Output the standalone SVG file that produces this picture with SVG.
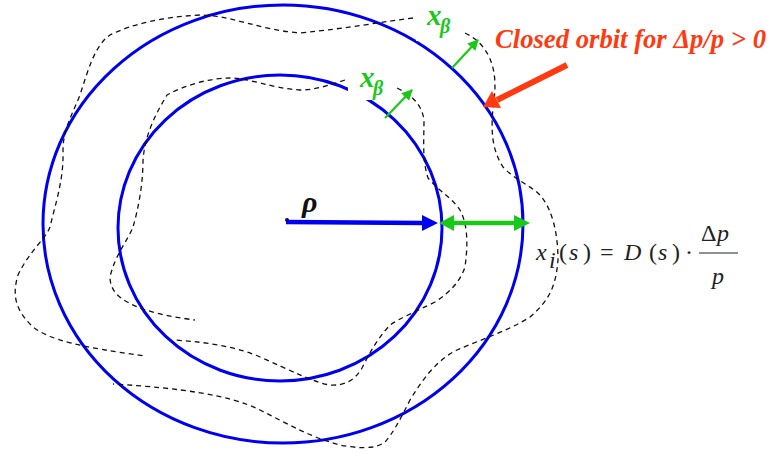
<svg xmlns="http://www.w3.org/2000/svg" width="779" height="454" viewBox="0 0 779 454">
<style>
.orbit{fill:none;stroke:#0000f0;stroke-width:3}
.dash{fill:none;stroke:#111;stroke-width:1.3;stroke-dasharray:5 4}
.green{stroke:#19c819;fill:none}
.lbl{font-family:"Liberation Serif",serif;font-weight:bold;font-style:italic}
.xb{fill:#19c819}
.f{font-family:"Liberation Serif","DejaVu Serif",serif;font-style:italic;fill:#222;font-size:24px}
.fn{font-family:"Liberation Serif","DejaVu Serif",serif;fill:#222;font-size:24px}
</style>
<defs>
<marker id="gh" markerWidth="5" markerHeight="5" refX="4.5" refY="2.5" orient="auto" markerUnits="strokeWidth"><path d="M0,0 L5,2.5 L0,5 Z" fill="#19c819"/></marker>
</defs>
<g id="outer-orbit"><ellipse class="orbit" cx="283" cy="224" rx="240" ry="219"/></g>
<g id="inner-orbit"><ellipse class="orbit" cx="280" cy="228" rx="162" ry="153"/></g>
<g id="connectors">
<path class="dash" d="M413,18 C380,22 350,28 300,33 C260,30 230,15 200,15 C160,17 130,25 110,35 C95,45 88,70 80,95 C72,115 63,130 63,150 C64,180 55,205 50,227 C45,240 30,250 18,275 C12,295 15,310 33,327 C50,340 80,347 145,356"/>
<path class="dash" d="M465,33 C490,45 498,70 494,100 C490,130 492,150 503,167 C515,180 530,185 540,195 C553,210 558,235 558,260 C556,285 550,300 530,317 C510,330 480,340 457,350 C440,358 425,375 410,400 C400,420 393,433 385,442 C375,450 355,448 340,445 C310,437 290,425 260,410 C230,395 180,388 113,384"/>
<path class="dash" d="M345,80 C330,85 315,90 300,90 C270,88 250,78 230,78 C210,78 185,85 167,95 C155,115 145,135 143,160 C143,185 138,210 133,227 C128,240 115,255 110,277 C110,290 118,300 143,309 C160,315 180,318 195,320"/>
<path class="dash" d="M397,88 C412,95 422,105 424,120 C424,140 422,160 428,178 C440,192 452,198 460,210 C468,225 468,245 465,267 C460,282 450,292 435,302 C415,312 400,318 390,325 C378,338 370,352 362,368 C355,380 345,386 330,385 C315,383 290,370 260,357 C240,348 210,342 173,340"/>
<rect x="416" y="5" width="47" height="36" fill="#fff"/>
<rect x="348" y="70" width="47" height="30" fill="#fff"/>
<circle cx="287" cy="220" r="2" fill="#111"/>
<line x1="286" y1="222" x2="424" y2="223" stroke="#0000f0" stroke-width="4.5"/>
<polygon points="422,215 438,223 422,231" fill="#0000f0"/>
<line x1="452" y1="223" x2="516" y2="223" stroke="#19c819" stroke-width="4.5"/>
<polygon points="454,215 439,223 454,231" fill="#19c819"/>
<polygon points="514,215 530,223 514,231" fill="#19c819"/>
<line class="green" x1="452" y1="68" x2="478" y2="40" stroke-width="2.2" marker-end="url(#gh)"/>
<line class="green" x1="385" y1="118" x2="412" y2="90" stroke-width="2.2" marker-end="url(#gh)"/>
<line x1="567" y1="65" x2="497" y2="100" stroke="#ff3a10" stroke-width="6"/>
<polygon points="483,107 492,91 501,108" fill="#ff3a10"/>
</g>
<g id="label-rho"><text class="lbl" x="302" y="212" font-size="30" fill="#111">ρ</text></g>
<g id="label-xb1"><text class="lbl xb" x="427" y="25" font-size="29">x</text><text class="lbl xb" x="440" y="33" font-size="20">β</text></g>
<g id="label-xb2"><text class="lbl xb" x="360" y="87" font-size="29">x</text><text class="lbl xb" x="373" y="95" font-size="20">β</text></g>
<g id="label-closed"><text class="lbl" x="495" y="48" font-size="27" textLength="271" lengthAdjust="spacingAndGlyphs" fill="#ff3a10">Closed orbit for Δp/p &gt; 0</text></g>
<g id="formula">
<text class="f" x="536" y="260">x</text>
<text class="f" x="549" y="268" font-size="16">i</text>
<text class="fn" x="559" y="260">(</text>
<text class="f" x="569" y="260">s</text>
<text class="fn" x="583" y="260">)</text>
<text class="fn" x="600" y="260">=</text>
<text class="f" x="624" y="260">D</text>
<text class="fn" x="649" y="260">(</text>
<text class="f" x="658" y="260">s</text>
<text class="fn" x="672" y="260">)</text>
<text class="fn" x="685" y="260">·</text>
<text class="fn" x="701" y="241">Δ</text>
<text class="f" x="717" y="241">p</text>
<line x1="699" y1="253" x2="738" y2="253" stroke="#222" stroke-width="1.2"/>
<text class="f" x="712" y="284">p</text>
</g>
</svg>
